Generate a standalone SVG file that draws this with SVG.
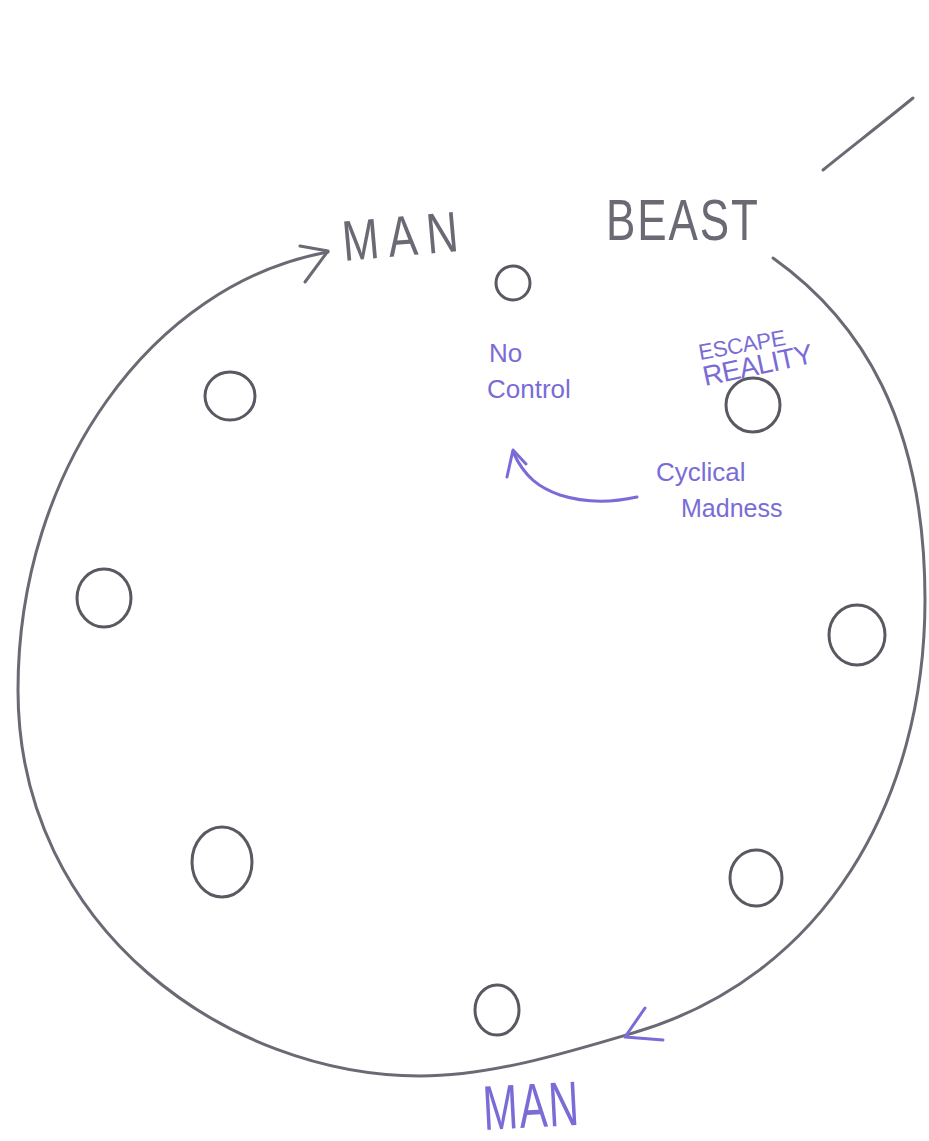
<svg xmlns="http://www.w3.org/2000/svg" width="929" height="1141" viewBox="0 0 929 1141">
<style>
.pencil{fill:none;stroke:#6b6a74;stroke-width:3;stroke-linecap:round;stroke-linejoin:round}
.pen{fill:none;stroke:#7a6cd6;stroke-width:3;stroke-linecap:round;stroke-linejoin:round}
.node{fill:none;stroke:#5a5962;stroke-width:3}
.gtext{font-family:"Liberation Sans","DejaVu Sans",sans-serif;fill:#6b6a74}
.ptext{font-family:"Liberation Sans","DejaVu Sans",sans-serif;fill:#7a6cd6}
</style>
<rect width="929" height="1141" fill="#ffffff"/>
<g id="connectors">
  <path class="pencil" d="M773,258 C860,320 925,420 925,600 C925,800 825,977 633,1033 C566,1053 490,1076 420,1076 C230,1076 18,930 18,690 C18,470 152,284 328,252"/>
  <path class="pencil" d="M300,246 L328,251 L305,282"/>
  <path class="pen" d="M645,1008 L625,1037 L663,1040"/>
  <path class="pencil" d="M823,170 C850,148 880,125 913,98"/>
  <path class="pen" d="M637,497 C610,503 585,503 560,495 C540,488 525,478 513,452"/>
  <path class="pen" d="M507,477 L513,450 L526,464"/>
</g>
<g id="node1"><ellipse class="node" cx="513" cy="283" rx="17" ry="17"/></g>
<g id="node2"><ellipse class="node" cx="230" cy="396" rx="25" ry="24"/></g>
<g id="node3"><ellipse class="node" cx="753" cy="405" rx="27" ry="27"/></g>
<g id="node4"><ellipse class="node" cx="104" cy="598" rx="27" ry="29"/></g>
<g id="node5"><ellipse class="node" cx="857" cy="635" rx="28" ry="30"/></g>
<g id="node6"><ellipse class="node" cx="222" cy="862" rx="30" ry="35"/></g>
<g id="node7"><ellipse class="node" cx="756" cy="878" rx="26" ry="28"/></g>
<g id="node8"><ellipse class="node" cx="497" cy="1010" rx="22" ry="25"/></g>
<g id="labels">
  <text class="gtext" font-size="44" transform="translate(344,261) rotate(-5) scale(1,1.3)" textLength="116">MAN</text>
  <text class="gtext" font-size="44" transform="translate(606,240) scale(1,1.3)" textLength="152">BEAST</text>
  <text class="ptext" x="489" y="362" font-size="26">No</text>
  <text class="ptext" x="487" y="398" font-size="26">Control</text>
  <text class="ptext" font-size="22" transform="translate(700,360) rotate(-10)" textLength="88">ESCAPE</text>
  <text class="ptext" font-size="28" transform="translate(705,386) rotate(-12)" textLength="112">REALITY</text>
  <text class="ptext" x="656" y="481" font-size="26">Cyclical</text>
  <text class="ptext" x="681" y="517" font-size="25">Madness</text>
  <text class="ptext" font-size="42" transform="translate(484,1130) rotate(-3) scale(1,1.5)" textLength="96">MAN</text>
</g>
</svg>
